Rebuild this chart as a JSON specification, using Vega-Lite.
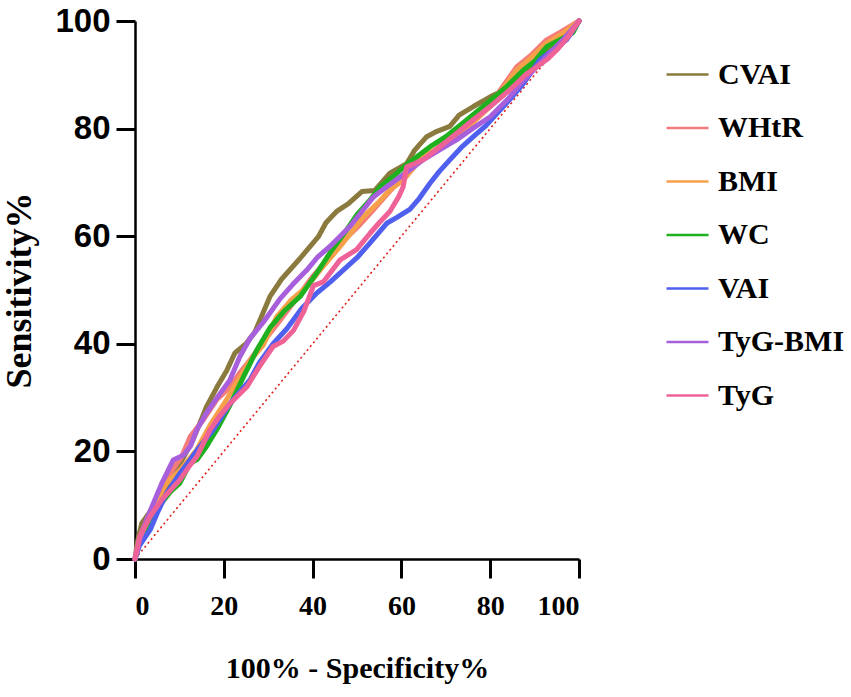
{
  "$schema": "https://vega.github.io/schema/vega-lite/v6.json",
  "autosize": {"type": "none"},
  "padding": {"left": 135, "top": 21, "right": 272, "bottom": 138},
  "width": 444,
  "height": 538,
  "view": {"stroke": null},
  "datasets": {
    "diag": [{"x": 0, "y": 0}, {"x": 100, "y": 100}],
    "roc": [
      {"m":"CVAI","x":0,"y":0},{"m":"CVAI","x":0.5,"y":3},{"m":"CVAI","x":1.5,"y":6.6},{"m":"CVAI","x":4,"y":9.5},{"m":"CVAI","x":7,"y":13},{"m":"CVAI","x":10,"y":17.5},{"m":"CVAI","x":13,"y":22},{"m":"CVAI","x":16.1,"y":28.3},{"m":"CVAI","x":18.5,"y":32},{"m":"CVAI","x":20.7,"y":35.1},{"m":"CVAI","x":22.5,"y":38.3},{"m":"CVAI","x":25,"y":40},{"m":"CVAI","x":27,"y":42.2},{"m":"CVAI","x":30.4,"y":48.8},{"m":"CVAI","x":33,"y":52},{"m":"CVAI","x":37.2,"y":55.9},{"m":"CVAI","x":41.3,"y":59.9},{"m":"CVAI","x":43,"y":62.5},{"m":"CVAI","x":45.4,"y":64.6},{"m":"CVAI","x":48,"y":66},{"m":"CVAI","x":51.1,"y":68.3},{"m":"CVAI","x":54,"y":68.5},{"m":"CVAI","x":57.4,"y":71.7},{"m":"CVAI","x":61.2,"y":73.5},{"m":"CVAI","x":63,"y":76},{"m":"CVAI","x":65.7,"y":78.5},{"m":"CVAI","x":68,"y":79.5},{"m":"CVAI","x":70.9,"y":80.4},{"m":"CVAI","x":73,"y":82.5},{"m":"CVAI","x":76.2,"y":84.1},{"m":"CVAI","x":80,"y":85.9},{"m":"CVAI","x":84,"y":87.5},{"m":"CVAI","x":88,"y":90},{"m":"CVAI","x":92,"y":93.5},{"m":"CVAI","x":96,"y":97},{"m":"CVAI","x":100,"y":100},
      {"m":"WHtR","x":0,"y":0},{"m":"WHtR","x":1,"y":4},{"m":"WHtR","x":3,"y":8},{"m":"WHtR","x":5,"y":11.5},{"m":"WHtR","x":8,"y":16},{"m":"WHtR","x":10.5,"y":19},{"m":"WHtR","x":12.4,"y":22.7},{"m":"WHtR","x":15.5,"y":26},{"m":"WHtR","x":18.4,"y":29.6},{"m":"WHtR","x":21.4,"y":32},{"m":"WHtR","x":23.5,"y":34.5},{"m":"WHtR","x":25.9,"y":37},{"m":"WHtR","x":29,"y":40.5},{"m":"WHtR","x":32.7,"y":44.4},{"m":"WHtR","x":36,"y":48},{"m":"WHtR","x":40,"y":52.5},{"m":"WHtR","x":43.9,"y":56.2},{"m":"WHtR","x":48,"y":60},{"m":"WHtR","x":50.5,"y":62},{"m":"WHtR","x":53.7,"y":64.9},{"m":"WHtR","x":57,"y":68},{"m":"WHtR","x":60.4,"y":71.1},{"m":"WHtR","x":64,"y":74},{"m":"WHtR","x":67.2,"y":75.7},{"m":"WHtR","x":71,"y":78.5},{"m":"WHtR","x":76.2,"y":81.6},{"m":"WHtR","x":80,"y":84.5},{"m":"WHtR","x":83,"y":88},{"m":"WHtR","x":86,"y":91.5},{"m":"WHtR","x":89,"y":93.5},{"m":"WHtR","x":92.7,"y":96.5},{"m":"WHtR","x":96,"y":98},{"m":"WHtR","x":100,"y":100},
      {"m":"BMI","x":0,"y":0},{"m":"BMI","x":1,"y":3.5},{"m":"BMI","x":3,"y":7.5},{"m":"BMI","x":5,"y":11},{"m":"BMI","x":7.1,"y":14.1},{"m":"BMI","x":10.1,"y":16.5},{"m":"BMI","x":13.9,"y":20.3},{"m":"BMI","x":17,"y":25},{"m":"BMI","x":20.6,"y":29.6},{"m":"BMI","x":23,"y":33},{"m":"BMI","x":25.9,"y":36.8},{"m":"BMI","x":28.9,"y":39.8},{"m":"BMI","x":31.9,"y":45},{"m":"BMI","x":35,"y":48},{"m":"BMI","x":38.7,"y":50.6},{"m":"BMI","x":42,"y":54},{"m":"BMI","x":46.2,"y":58.1},{"m":"BMI","x":49,"y":61},{"m":"BMI","x":51.4,"y":63.6},{"m":"BMI","x":54.5,"y":66},{"m":"BMI","x":57.4,"y":68.6},{"m":"BMI","x":60.4,"y":70.4},{"m":"BMI","x":64.9,"y":74.8},{"m":"BMI","x":68.5,"y":76.5},{"m":"BMI","x":72.4,"y":78.5},{"m":"BMI","x":76,"y":81},{"m":"BMI","x":80,"y":84.1},{"m":"BMI","x":83,"y":87.5},{"m":"BMI","x":86,"y":90.9},{"m":"BMI","x":89,"y":93},{"m":"BMI","x":92.7,"y":95.9},{"m":"BMI","x":96,"y":97.5},{"m":"BMI","x":100,"y":100},
      {"m":"WC","x":0,"y":0},{"m":"WC","x":1,"y":3},{"m":"WC","x":3,"y":6.5},{"m":"WC","x":5.6,"y":10},{"m":"WC","x":8,"y":12.5},{"m":"WC","x":10.1,"y":14.1},{"m":"WC","x":12.4,"y":17.8},{"m":"WC","x":14,"y":18.5},{"m":"WC","x":16.1,"y":20.9},{"m":"WC","x":18.8,"y":24.6},{"m":"WC","x":21.4,"y":28.6},{"m":"WC","x":24.4,"y":33.8},{"m":"WC","x":27.4,"y":38.8},{"m":"WC","x":30.4,"y":43},{"m":"WC","x":33.5,"y":46},{"m":"WC","x":37.2,"y":48.8},{"m":"WC","x":40.9,"y":53.1},{"m":"WC","x":44,"y":57},{"m":"WC","x":47.7,"y":61.2},{"m":"WC","x":50,"y":64},{"m":"WC","x":52.9,"y":66.7},{"m":"WC","x":55.2,"y":69.2},{"m":"WC","x":58,"y":71},{"m":"WC","x":61.9,"y":73.8},{"m":"WC","x":66.4,"y":76.6},{"m":"WC","x":70,"y":78.5},{"m":"WC","x":74.7,"y":81.6},{"m":"WC","x":78.4,"y":84.1},{"m":"WC","x":83.7,"y":87.8},{"m":"WC","x":87.5,"y":90.9},{"m":"WC","x":90,"y":92.5},{"m":"WC","x":92.7,"y":95.2},{"m":"WC","x":98.6,"y":97.8},{"m":"WC","x":100,"y":100},
      {"m":"VAI","x":0,"y":0},{"m":"VAI","x":1,"y":2.5},{"m":"VAI","x":3.4,"y":5.4},{"m":"VAI","x":5,"y":8.5},{"m":"VAI","x":7.1,"y":12.2},{"m":"VAI","x":10.1,"y":15.9},{"m":"VAI","x":12,"y":18},{"m":"VAI","x":14.6,"y":20.9},{"m":"VAI","x":17.6,"y":24},{"m":"VAI","x":21.4,"y":28.9},{"m":"VAI","x":23.5,"y":31},{"m":"VAI","x":25.9,"y":33.3},{"m":"VAI","x":28,"y":36.5},{"m":"VAI","x":31.1,"y":40},{"m":"VAI","x":34.2,"y":42.8},{"m":"VAI","x":37.5,"y":46.5},{"m":"VAI","x":40.9,"y":49.4},{"m":"VAI","x":44,"y":51.5},{"m":"VAI","x":46.9,"y":53.7},{"m":"VAI","x":50,"y":56},{"m":"VAI","x":52.9,"y":58.7},{"m":"VAI","x":56.7,"y":62.4},{"m":"VAI","x":59,"y":63.5},{"m":"VAI","x":61.9,"y":65},{"m":"VAI","x":64,"y":67},{"m":"VAI","x":66.4,"y":69.8},{"m":"VAI","x":68.5,"y":72},{"m":"VAI","x":70.9,"y":74.2},{"m":"VAI","x":73.5,"y":76.5},{"m":"VAI","x":76.2,"y":78.5},{"m":"VAI","x":79,"y":80.5},{"m":"VAI","x":81.5,"y":82.8},{"m":"VAI","x":84.5,"y":85.5},{"m":"VAI","x":87.5,"y":88.4},{"m":"VAI","x":91.2,"y":92.8},{"m":"VAI","x":94,"y":94.5},{"m":"VAI","x":97.2,"y":96.5},{"m":"VAI","x":100,"y":100},
      {"m":"TyG-BMI","x":0,"y":0},{"m":"TyG-BMI","x":1,"y":3.5},{"m":"TyG-BMI","x":2.5,"y":7},{"m":"TyG-BMI","x":4.1,"y":10.3},{"m":"TyG-BMI","x":6,"y":14},{"m":"TyG-BMI","x":8.6,"y":18.4},{"m":"TyG-BMI","x":10.9,"y":19.3},{"m":"TyG-BMI","x":12.5,"y":21},{"m":"TyG-BMI","x":13.9,"y":24},{"m":"TyG-BMI","x":16,"y":27},{"m":"TyG-BMI","x":18.5,"y":30},{"m":"TyG-BMI","x":21.4,"y":33.3},{"m":"TyG-BMI","x":23.6,"y":37.6},{"m":"TyG-BMI","x":25.9,"y":41},{"m":"TyG-BMI","x":28.9,"y":44},{"m":"TyG-BMI","x":32.7,"y":48.4},{"m":"TyG-BMI","x":35.5,"y":51},{"m":"TyG-BMI","x":38.7,"y":53.7},{"m":"TyG-BMI","x":41,"y":56},{"m":"TyG-BMI","x":43.9,"y":58.1},{"m":"TyG-BMI","x":48.4,"y":61.8},{"m":"TyG-BMI","x":51,"y":64.5},{"m":"TyG-BMI","x":53.7,"y":67.3},{"m":"TyG-BMI","x":56.7,"y":69.2},{"m":"TyG-BMI","x":60.4,"y":71.4},{"m":"TyG-BMI","x":64.9,"y":74.2},{"m":"TyG-BMI","x":68.5,"y":76},{"m":"TyG-BMI","x":72.4,"y":77.9},{"m":"TyG-BMI","x":76,"y":80},{"m":"TyG-BMI","x":80,"y":82.2},{"m":"TyG-BMI","x":84,"y":85.5},{"m":"TyG-BMI","x":87.5,"y":89},{"m":"TyG-BMI","x":91.2,"y":92.1},{"m":"TyG-BMI","x":94,"y":94.5},{"m":"TyG-BMI","x":96.4,"y":96.5},{"m":"TyG-BMI","x":100,"y":100},
      {"m":"TyG","x":0,"y":0},{"m":"TyG","x":1.1,"y":4.1},{"m":"TyG","x":3.4,"y":7.9},{"m":"TyG","x":6,"y":11},{"m":"TyG","x":8,"y":12.8},{"m":"TyG","x":10.1,"y":14.7},{"m":"TyG","x":12,"y":17},{"m":"TyG","x":13.9,"y":19},{"m":"TyG","x":16.9,"y":24},{"m":"TyG","x":19,"y":26.5},{"m":"TyG","x":21.4,"y":28.9},{"m":"TyG","x":25.2,"y":32},{"m":"TyG","x":28.2,"y":36},{"m":"TyG","x":31.1,"y":39.5},{"m":"TyG","x":33.4,"y":40.5},{"m":"TyG","x":35.7,"y":42.5},{"m":"TyG","x":38,"y":46},{"m":"TyG","x":40.2,"y":50.8},{"m":"TyG","x":42.4,"y":51.5},{"m":"TyG","x":46.2,"y":55.6},{"m":"TyG","x":49.9,"y":57.5},{"m":"TyG","x":52.9,"y":60.5},{"m":"TyG","x":55,"y":62.5},{"m":"TyG","x":57.4,"y":64.6},{"m":"TyG","x":59.5,"y":67.5},{"m":"TyG","x":60.4,"y":69.2},{"m":"TyG","x":61.2,"y":72.9},{"m":"TyG","x":63,"y":73.5},{"m":"TyG","x":64.9,"y":74.2},{"m":"TyG","x":68.5,"y":76.5},{"m":"TyG","x":72.4,"y":79.1},{"m":"TyG","x":76,"y":81.5},{"m":"TyG","x":80,"y":84.1},{"m":"TyG","x":83,"y":86.2},{"m":"TyG","x":86,"y":88.4},{"m":"TyG","x":88,"y":90},{"m":"TyG","x":90.5,"y":91.5},{"m":"TyG","x":93,"y":93},{"m":"TyG","x":95,"y":94.6},{"m":"TyG","x":97.5,"y":97},{"m":"TyG","x":99.5,"y":99.4},{"m":"TyG","x":100,"y":100}
    ]
  },
  "encoding": {
    "x": {
      "field": "x", "type": "quantitative",
      "axis": {
        "values": [0, 20, 40, 60, 80, 100],
        "gridOpacity": 0,
        "domainColor": "#000", "domainWidth": 2.5,
        "tickColor": "#000", "tickWidth": 3, "tickSize": 19,
        "title": "100% - Specificity%",
        "labelColor": "#000", "titleColor": "#000",
        "labelFont": "Liberation Serif", "labelFontWeight": "bold", "labelFontSize": 28,
        "labelPadding": 14,
        "titleFont": "Liberation Serif", "titleFontWeight": "bold", "titleFontSize": 30,
        "titlePadding": 33
      }
    },
    "y": {
      "field": "y", "type": "quantitative",
      "axis": {
        "values": [0, 20, 40, 60, 80, 100],
        "gridOpacity": 0,
        "domainColor": "#000", "domainWidth": 2.5,
        "tickColor": "#000", "tickWidth": 3, "tickSize": 19,
        "title": "Sensitivity%",
        "labelColor": "#000", "titleColor": "#000",
        "labelFont": "Liberation Sans", "labelFontWeight": "bold", "labelFontSize": 33,
        "labelPadding": 6,
        "titleFont": "Liberation Serif", "titleFontWeight": "bold", "titleFontSize": 36,
        "titlePadding": 16
      }
    }
  },
  "layer": [
    {
      "data": {"name": "diag"},
      "mark": {"type": "line", "color": "#E0201C", "strokeWidth": 1.6, "strokeDash": [2, 3]}
    },
    {
      "data": {"name": "roc"},
      "mark": {"type": "line", "strokeWidth": 5, "strokeJoin": "round", "strokeCap": "round"},
      "encoding": {
        "color": {
          "field": "m", "type": "nominal",
          "sort": ["CVAI", "WHtR", "BMI", "WC", "VAI", "TyG-BMI", "TyG"],
          "scale": {
            "domain": ["CVAI", "WHtR", "BMI", "WC", "VAI", "TyG-BMI", "TyG"],
            "range": ["#8A7A3E", "#F47B7B", "#F7A04A", "#1FB01F", "#5060EE", "#A75FDB", "#EE6298"]
          },
          "legend": {
            "title": null,
            "orient": "none",
            "legendX": 530,
            "legendY": 31,
            "symbolType": "stroke",
            "symbolSize": 1764,
            "symbolStrokeWidth": 2.5,
            "labelFont": "Liberation Serif",
            "labelFontWeight": "bold",
            "labelFontSize": 30,
            "labelColor": "black",
            "labelOffset": 8,
            "labelLimit": 300,
            "rowPadding": 15.5
          }
        }
      }
    }
  ]
}
